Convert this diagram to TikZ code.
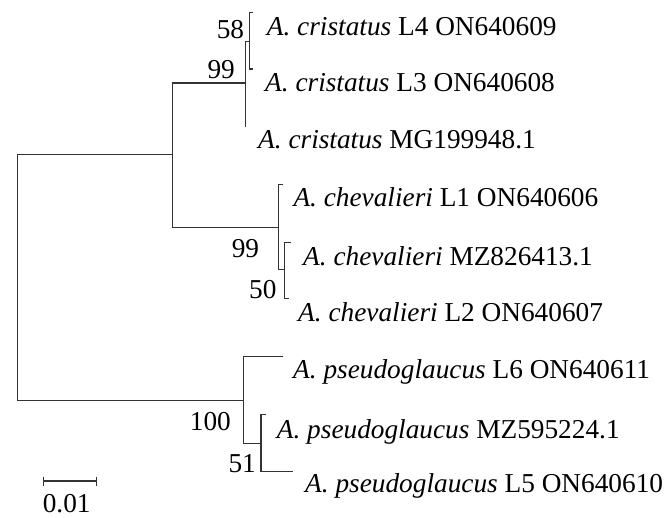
\documentclass[tikz,border=0pt]{standalone}
\usepackage{fontspec}
\setmainfont{Liberation Serif}
\usetikzlibrary{arrows.meta}
\begin{document}
\begin{tikzpicture}[x=1pt,y=-1pt,
  branch/.style={line width=1.2pt, draw=black!80, line join=miter},
  taxon/.style={anchor=base west, inner sep=0pt, font=\fontsize{27.3}{32}\selectfont},
  boot/.style={anchor=base east, inner sep=0pt, font=\fontsize{27.3}{32}\selectfont}]
\useasboundingbox (0,0) rectangle (668,517);

% internal nodes (x = node depth, y = height of the branch reaching it)
\coordinate (R)  at (17.3,277.7);
\coordinate (U)  at (172.7,154.7);
\coordinate (P)  at (243.3,400.7);
\coordinate (C)  at (245.7,83);
\coordinate (H)  at (278.7,227.3);
\coordinate (C2) at (249.3,41.7);
\coordinate (H2) at (284.3,269.3);
\coordinate (P2) at (261,443.3);
% tips
\coordinate (L4) at (253,12.3);
\coordinate (L3) at (253,69);
\coordinate (MG) at (245.7,127);
\coordinate (L1) at (283.3,184.3);
\coordinate (M8) at (291,242.7);
\coordinate (L2) at (289,298.3);
\coordinate (L6) at (283.3,356.7);
\coordinate (M5) at (266,414.7);
\coordinate (L5) at (293.3,471.7);

% branches
\draw[branch] (U)  -- (R |- U)   -- (R |- P)   -- (P);
\draw[branch] (C)  -- (U |- C)   -- (U |- H)   -- (H);
\draw[branch] (C2) -- (C |- C2)  -- (C |- MG)  -- (MG);
\draw[branch] (L4) -- (C2 |- L4) -- (C2 |- L3) -- (L3);
\draw[branch] (L1) -- (H |- L1)  -- (H |- H2)  -- (H2);
\draw[branch] (M8) -- (H2 |- M8) -- (H2 |- L2) -- (L2);
\draw[branch] (L6) -- (P |- L6)  -- (P |- P2)  -- (P2);
\draw[branch] (M5) -- (P2 |- M5) -- (P2 |- L5) -- (L5);

% taxon labels
\node[taxon] (tL4) at (266.7,35)  {\textit{A. cristatus} L4 ON640609};
\node[taxon] (tL3) at (265,91.5)  {\textit{A. cristatus} L3 ON640608};
\node[taxon] (tMG) at (258,148.5) {\textit{A. cristatus} MG199948.1};
\node[taxon] (tL1) at (293.3,206.5) {\textit{A. chevalieri} L1 ON640606};
\node[taxon] (tM8) at (303,265)   {\textit{A. chevalieri} MZ826413.1};
\node[taxon] (tL2) at (298,321)   {\textit{A. chevalieri} L2 ON640607};
\node[taxon] (tL6) at (293,378.5) {\textit{A. pseudoglaucus} L6 ON640611};
\node[taxon] (tM5) at (276.7,438) {\textit{A. pseudoglaucus} MZ595224.1};
\node[taxon] (tL5) at (305,492)   {\textit{A. pseudoglaucus} L5 ON640610};

% bootstrap values
\node[boot] (b1) at (244.3,38)    {58};
\node[boot] (b2) at (235,78)      {99};
\node[boot] (b3) at (259.3,257.3) {99};
\node[boot] (b4) at (276.7,298.3) {50};
\node[boot] (b5) at (231,430.7)   {100};
\node[boot] (b6) at (256,472.7)   {51};

% scale bar
\coordinate (S1) at (42.7,481);
\coordinate (S2) at (96.7,481);
\draw[branch, {Bar[width=9pt]}-{Bar[width=9pt]}] (S1) -- (S2);
\node[anchor=base, inner sep=0pt, font=\fontsize{27.3}{32}\selectfont] (sc) at (66.7,512) {0.01};
\end{tikzpicture}
\end{document}
